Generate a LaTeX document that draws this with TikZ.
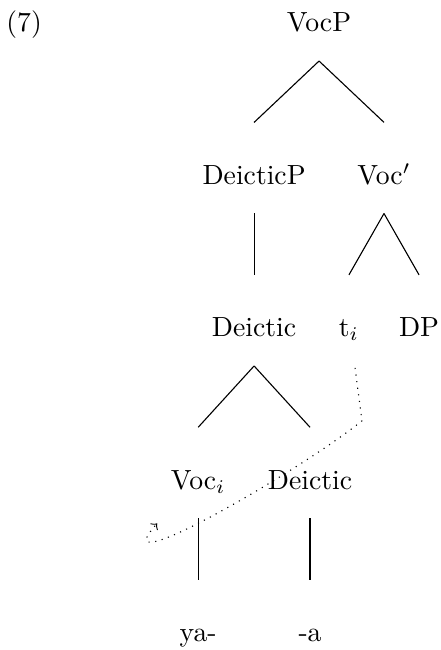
\documentclass[tikz,border=0pt]{standalone}
\usepackage{amsmath}
\usepackage{tikz}
\tikzset{
  synnode/.style={text height=7pt, text depth=2pt, inner sep=0pt},
  exlabel/.style={anchor=base, inner sep=0pt},
  movearrow/.style={->, dotted, line width=0.4pt}
}

\begin{document}
\begin{tikzpicture}[level distance=55.05pt,
  every node/.style={synnode},
  edge from parent path={([yshift=-10.6pt]\tikzparentnode.base) -- ([yshift=22.3pt]\tikzchildnode.base)},
  level 1/.style={sibling distance=46.9pt},
  level 2/.style={sibling distance=25.3pt},
  level 3/.style={sibling distance=40.4pt}]
  \useasboundingbox (0,0) rectangle (159.2pt,-234.7pt);
  \node[exlabel] (ex) at (8.7pt,-11.44pt) {(7)};
  \node (vocp) at (115.2pt,-8.94pt) {VocP}
    child {node (deicticp) {DeicticP}
      child {node (deictic) {Deictic}
        child {node (voci) {Voc$_i$}
          child {node (ya) {ya-}}}
        child {node (deicticlow) {Deictic}
          child {node (a) {-a}}}}}
    child {node (vocbar) {Voc$'$}
      child {node (ti) {t$_i$}}
      child {node (dp) {DP}}};
  % movement of the head
  \draw[movearrow] ([xshift=2.2pt,yshift=-11.3pt]ti.base) -- ++(2.5pt,-19.1pt)
    .. controls +(-22.4pt,-18.1pt) and +(-20.6pt,-22.7pt) .. ([xshift=-14.8pt,yshift=-12.4pt]voci.base);
\end{tikzpicture}
\end{document}
